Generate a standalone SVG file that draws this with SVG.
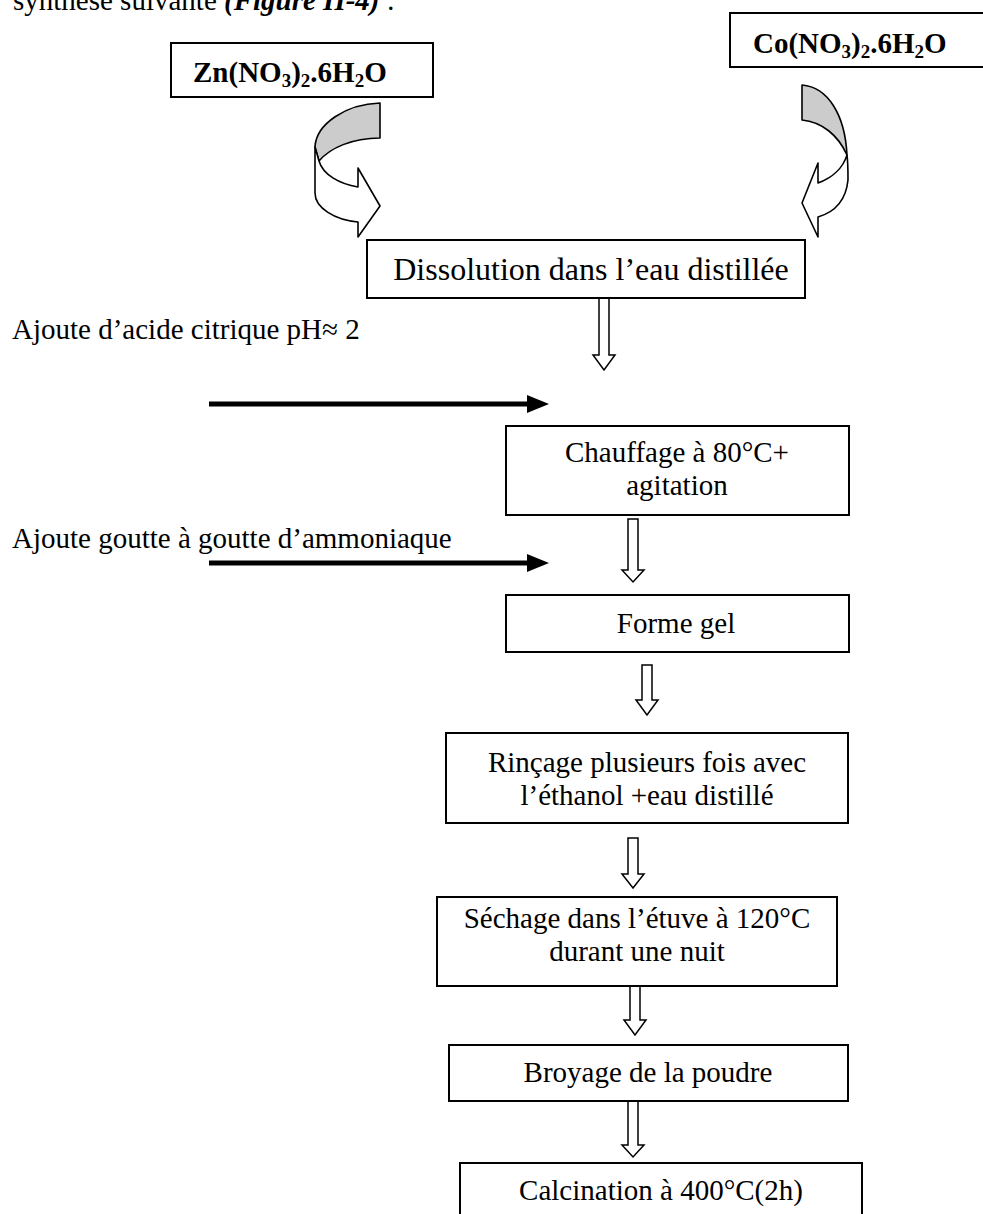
<svg xmlns="http://www.w3.org/2000/svg" width="983" height="1214" viewBox="0 0 983 1214">
<style>
text{font-family:"Liberation Serif","Times New Roman",serif;font-size:29px;fill:#000}
.box{fill:#fff;stroke:#000;stroke-width:2}
.hollow{fill:#fff;stroke:#000;stroke-width:1.5;stroke-linejoin:miter}
.curve{stroke:#000;stroke-width:1.6;stroke-linejoin:round}
.thick{stroke:#000;stroke-width:5}
.c{text-anchor:middle}
.b{font-weight:bold}
</style>
<rect width="983" height="1214" fill="#fff"/>
<text x="13" y="10">synthèse suivante <tspan font-weight="bold" font-style="italic">(Figure II-4)</tspan> :</text>
<text x="12" y="339">Ajoute d’acide citrique pH≈ 2</text>
<text x="12" y="548">Ajoute goutte à goutte d’ammoniaque</text>
<g id="connectors">
<path class="curve" fill="#cccccc" d="M380,103 C346,104 316,124 315,147 L319,161 C330,148 352,138 380,138 Z"/>
<path class="curve" fill="#fff" d="M315,147 L315,193 C315,208 335,220 358,222 L358,237 L380,206 L358,168 L358,187 C340,184 323,175 319,161 Z"/>
<path class="curve" fill="#cccccc" d="M802,85 C828,87 845,115 847,155 C838,135 822,122 802,120 Z"/>
<path class="curve" fill="#fff" d="M847,155 C848,162 848,172 848,180 C846,200 835,212 818,217 L818,237 L802,203 L818,163 L818,183 C832,178 843,168 847,155 Z"/>
<path class="hollow" d="M599,298 L609,298 L609,355 L615,355 L604,370 L593,355 L599,355 Z"/>
<path class="hollow" d="M628,519 L638,519 L638,570 L644,570 L633,582 L622,570 L628,570 Z"/>
<path class="hollow" d="M642,665 L652,665 L652,700 L658,700 L647,715 L636,700 L642,700 Z"/>
<path class="hollow" d="M628,838 L638,838 L638,874 L644,874 L633,888 L622,874 L628,874 Z"/>
<path class="hollow" d="M630,986 L640,986 L640,1020 L646,1020 L635,1035 L624,1020 L630,1020 Z"/>
<path class="hollow" d="M628,1101 L638,1101 L638,1145 L644,1145 L633,1157 L622,1145 L628,1145 Z"/>
<line class="thick" x1="209" y1="404" x2="530" y2="404"/>
<polygon points="527,395 549,404 527,413" fill="#000"/>
<line class="thick" x1="209" y1="563" x2="530" y2="563"/>
<polygon points="527,554 549,563 527,572" fill="#000"/>
</g>
<g id="zn">
<rect class="box" x="171" y="43" width="262" height="54"/>
<text class="b" x="193" y="82">Zn(NO<tspan font-size="19" dy="5">3</tspan><tspan dy="-5">)</tspan><tspan font-size="19" dy="5">2</tspan><tspan dy="-5">.6H</tspan><tspan font-size="19" dy="5">2</tspan><tspan dy="-5">O</tspan></text>
</g>
<g id="co">
<rect class="box" x="730" y="13" width="262" height="54"/>
<text class="b" x="753" y="53">Co(NO<tspan font-size="19" dy="5">3</tspan><tspan dy="-5">)</tspan><tspan font-size="19" dy="5">2</tspan><tspan dy="-5">.6H</tspan><tspan font-size="19" dy="5">2</tspan><tspan dy="-5">O</tspan></text>
</g>
<g id="dissolution">
<rect class="box" x="367" y="240" width="438" height="58"/>
<text class="c" x="591" y="280" style="font-size:32px">Dissolution dans l’eau distillée</text>
</g>
<g id="chauffage">
<rect class="box" x="506" y="426" width="343" height="89"/>
<text class="c" x="677" y="462">Chauffage à 80°C+</text>
<text class="c" x="677" y="495">agitation</text>
</g>
<g id="gel">
<rect class="box" x="506" y="595" width="343" height="57"/>
<text class="c" x="676" y="633">Forme gel</text>
</g>
<g id="rincage">
<rect class="box" x="446" y="733" width="402" height="90"/>
<text class="c" x="647" y="772">Rinçage plusieurs fois avec</text>
<text class="c" x="647" y="805">l’éthanol +eau distillé</text>
</g>
<g id="sechage">
<rect class="box" x="437" y="897" width="400" height="89"/>
<text class="c" x="637" y="928">Séchage dans l’étuve à 120°C</text>
<text class="c" x="637" y="961">durant une nuit</text>
</g>
<g id="broyage">
<rect class="box" x="449" y="1045" width="399" height="56"/>
<text class="c" x="648" y="1082">Broyage de la poudre</text>
</g>
<g id="calcination">
<rect class="box" x="460" y="1163" width="402" height="60"/>
<text class="c" x="661" y="1200">Calcination à 400°C(2h)</text>
</g>
</svg>
